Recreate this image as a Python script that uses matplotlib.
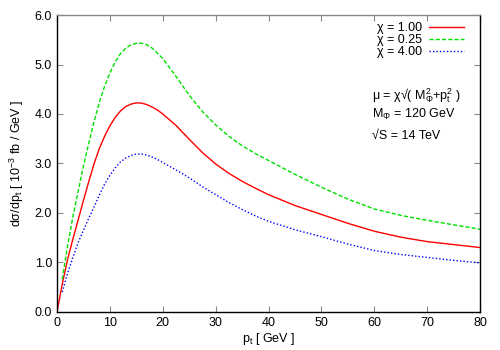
import matplotlib
matplotlib.use('Agg')
import matplotlib.pyplot as plt

plt.rcParams['font.family'] = ['Liberation Sans', 'DejaVu Sans']
plt.rcParams['mathtext.fontset'] = 'custom'
plt.rcParams['mathtext.rm'] = 'Liberation Sans'
plt.rcParams['mathtext.default'] = 'regular'
plt.rcParams['font.size'] = 9

# transverse momentum grid [GeV]
pt = [0, 1, 2, 3, 4, 5, 6, 7, 8, 9, 10, 11, 12, 13, 14, 15, 16, 17, 18, 19, 20,
      22.5, 25, 27.5, 30, 32.5, 35, 37.5, 40, 45, 50, 55, 60, 65, 70, 75, 80]

# chi = 1.00
sig_100 = [0.0, 0.56, 1.06, 1.47, 1.86, 2.25, 2.63, 2.99, 3.30, 3.55, 3.76, 3.93, 4.06,
           4.15, 4.20, 4.225, 4.22, 4.19, 4.14, 4.08, 4.00,
           3.77, 3.49, 3.22, 2.99, 2.80, 2.64, 2.50, 2.37, 2.15, 1.97, 1.79, 1.63,
           1.51, 1.42, 1.36, 1.30]
# chi = 0.25  (curve starts at pt = 1)
sig_025 = [None, 0.66, 1.33, 1.92, 2.44, 2.95, 3.40, 3.84, 4.23, 4.56, 4.83, 5.05, 5.22,
           5.33, 5.40, 5.43, 5.43, 5.40, 5.33, 5.23, 5.12,
           4.76, 4.38, 4.05, 3.78, 3.55, 3.36, 3.20, 3.06, 2.78, 2.52, 2.28, 2.08,
           1.95, 1.85, 1.76, 1.67]
# chi = 4.00  (curve starts at pt = 1)
sig_400 = [None, 0.40, 0.78, 1.10, 1.40, 1.65, 1.89, 2.12, 2.36, 2.58, 2.76, 2.91, 3.03,
           3.11, 3.16, 3.19, 3.19, 3.17, 3.13, 3.08, 3.02,
           2.87, 2.71, 2.53, 2.37, 2.21, 2.07, 1.94, 1.83, 1.66, 1.52, 1.37, 1.24,
           1.16, 1.10, 1.04, 0.99]

fig = plt.figure(figsize=(5, 3.5), dpi=100)
ax = fig.add_axes([0.114, 0.109, 0.846, 0.848])

ax.plot(pt, sig_100, color='#ff0000', lw=1.0, label='χ = 1.00')
ax.plot(pt[1:], sig_025[1:], color='#00e000', lw=1.0, ls=(0, (3, 1.5)), label='χ = 0.25')
ax.plot(pt[1:], sig_400[1:], color='#0000ff', lw=1.0, ls=(0, (1, 1.5)), label='χ = 4.00')

ax.set_xlim(0, 80)
ax.set_ylim(0, 6)
ax.set_xticks(range(0, 81, 10))
ax.set_yticks([0, 1, 2, 3, 4, 5, 6])
ax.set_yticklabels(['%.1f' % v for v in [0, 1, 2, 3, 4, 5, 6]])
ax.tick_params(direction='in', top=True, right=True, length=4, color='#888888')
for s in ax.spines.values():
    s.set_linewidth(1.0)
ax.spines['top'].set_color('#888888')

ax.set_xlabel('p$_t$ [ GeV ]', labelpad=2)
ax.set_ylabel('dσ/dp$_t$ [ 10$^{-3}$ fb / GeV ]', labelpad=6)

ax.legend(loc='upper right', bbox_to_anchor=(0.962, 0.975), frameon=False,
          markerfirst=False, handlelength=2.8, labelspacing=0.0, borderpad=0,
          borderaxespad=0, handletextpad=0.55, fontsize=9)

ax.text(0.745, 0.714, 'μ = χ√( M$_Φ^2$+p$_t^2$ )', transform=ax.transAxes, va='baseline')
ax.text(0.745, 0.655, 'M$_Φ$ = 120 GeV', transform=ax.transAxes, va='baseline')
ax.text(0.745, 0.584, '√S = 14 TeV', transform=ax.transAxes, va='baseline')

fig.savefig('out.png', dpi=100)
